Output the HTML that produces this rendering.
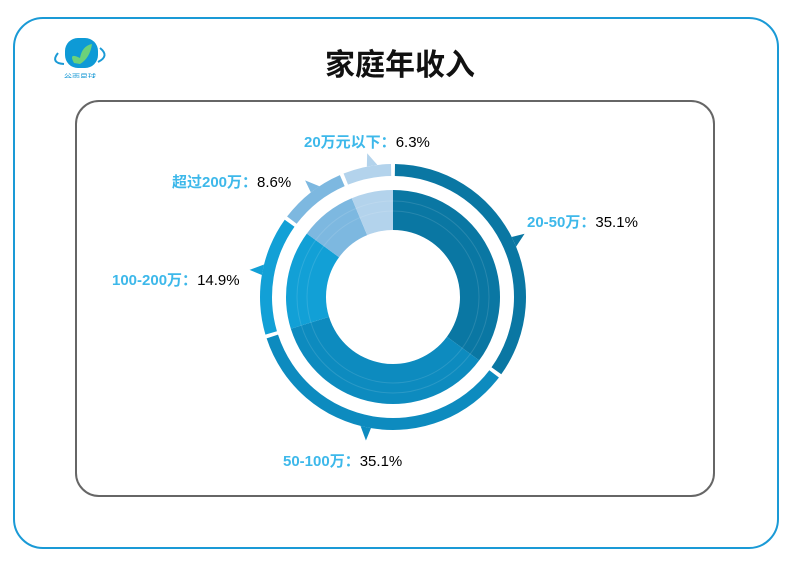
<!DOCTYPE html><html><head><meta charset="utf-8"><style>
body{margin:0;width:800px;height:582px;background:#fff;font-family:"Liberation Sans","Noto Sans CJK SC",sans-serif;position:relative;overflow:hidden}
.card{position:absolute;left:13px;top:17px;width:762px;height:528px;border:2px solid #1a9ad6;border-radius:30px}
.inner{position:absolute;left:75px;top:100px;width:636px;height:393px;border:2px solid #666;border-radius:24px}
.t{position:absolute;font-size:15px;white-space:nowrap}
.t b{color:#3db8ea}
</style></head><body>
<div class="card"></div>
<div class="inner"></div>
<div style="position:absolute;left:0;width:800px;top:40px;text-align:center;font-size:30px;font-weight:bold;color:#111">家庭年收入</div>
<svg style="position:absolute;left:50px;top:28px" width="60" height="50">
<path d="M8 25 Q0 35 14 36" stroke="#1a9ad6" stroke-width="2" fill="none"/>
<path d="M50 20 Q60 28 48 34" stroke="#1a9ad6" stroke-width="2" fill="none"/>
<rect x="15" y="10" width="33" height="30" rx="13" fill="#0e9ad6"/>
<path d="M24 35 Q18 24 30 30 Q32 18 42 16 Q40 30 30 36Z" fill="#6cd27a"/>
<text x="30" y="52" font-size="8" fill="#1a9ad6" text-anchor="middle">谷雨星球</text>
</svg>
<svg style="position:absolute;left:0;top:0" width="800" height="582" viewBox="0 0 800 582" id="s"></svg>
<div class="t" style="left:304px;top:131px"><b>20万元以下：</b>6.3%</div>
<div class="t" style="left:172px;top:171px"><b>超过200万：</b>8.6%</div>
<div class="t" style="left:527px;top:211px"><b>20-50万：</b>35.1%</div>
<div class="t" style="left:112px;top:269px"><b>100-200万：</b>14.9%</div>
<div class="t" style="left:283px;top:450px"><b>50-100万：</b>35.1%</div>
<script>
var cx=393,cy=297,s=document.getElementById('s');
var d=[[35.1,'#0a77a3'],[35.1,'#0d8bbf'],[14.9,'#12a0d6'],[8.6,'#7db8e0'],[6.3,'#b3d3ec']];
function p(r,a){return [cx+r*Math.sin(a),cy-r*Math.cos(a)];}
function arc(r1,r2,a1,a2,c){var l=(a2-a1)>Math.PI?1:0,A=p(r2,a1),B=p(r2,a2),C=p(r1,a2),D=p(r1,a1);
return '<path d="M'+A+' A'+r2+' '+r2+' 0 '+l+' 1 '+B+' L'+C+' A'+r1+' '+r1+' 0 '+l+' 0 '+D+'Z" fill="'+c+'"/>';}
var h='',a=0;
d.forEach(function(e){var b=a+e[0]/100*2*Math.PI;
h+=arc(67,107,a,b,e[1]);
h+=arc(121,133,a+0.015,b-0.015,e[1]);
var m=(a+b)/2,P=p(133,m),Q=p(146,m+0.02),R=p(133,m+0.08);
h+='<path d="M'+P+' L'+Q+' L'+R+'Z" fill="'+e[1]+'"/>';
a=b;});
[86,96].forEach(function(r){h+='<circle cx="'+cx+'" cy="'+cy+'" r="'+r+'" fill="none" stroke="rgba(255,255,255,0.12)" stroke-width="1"/>';});
s.innerHTML=h;
</script>
</body></html>
